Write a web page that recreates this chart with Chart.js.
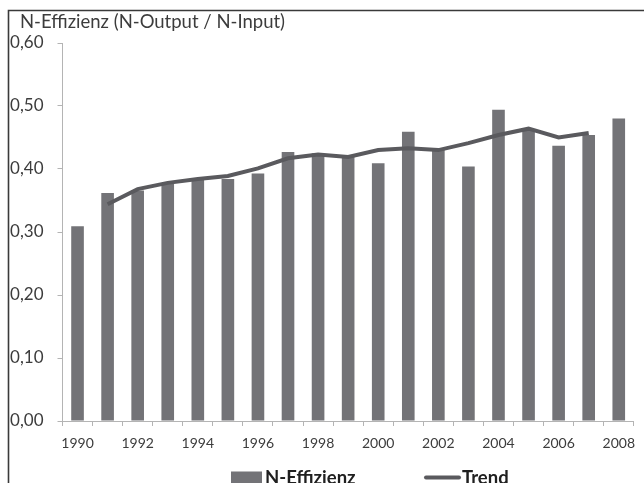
<!DOCTYPE html>
<html>
<head>
<meta charset="utf-8">
<script src="https://cdn.jsdelivr.net/npm/chart.js@4/dist/chart.umd.min.js"></script>
<style>
  html, body { margin: 0; padding: 0; background: #ffffff; }
  #wrap { width: 644px; height: 483px; position: relative; }
</style>
</head>
<body>
<div id="wrap"><canvas id="c" width="644" height="483"></canvas></div>
<script>
const chartTitle = 'N-Effizienz (N-Output / N-Input)';
const years = ['1990','1991','1992','1993','1994','1995','1996','1997','1998','1999',
               '2000','2001','2002','2003','2004','2005','2006','2007','2008'];
const efficiency = [0.309, 0.362, 0.366, 0.376, 0.383, 0.384, 0.393, 0.427, 0.425, 0.419,
                    0.409, 0.459, 0.430, 0.404, 0.494, 0.463, 0.437, 0.454, 0.480];
const trend = [null, 0.344, 0.368, 0.378, 0.384, 0.389, 0.401, 0.417, 0.423, 0.419,
               0.430, 0.433, 0.430, 0.441, 0.454, 0.464, 0.450, 0.457, null];
const seriesNames = ['N-Effizienz', 'Trend'];
const yTicks = [0, 0.1, 0.2, 0.3, 0.4, 0.5, 0.6];

const BAR_COLOR = '#737377';
const LINE_COLOR = '#5a5a5e';
const AXIS_COLOR = '#b4b4b4';
const TEXT_COLOR = '#3c3c3c';

const decorPlugin = {
  id: 'decor',
  beforeDraw(chart) {
    const ctx = chart.ctx;
    ctx.save();
    ctx.fillStyle = '#ffffff';
    ctx.fillRect(0, 0, chart.width, chart.height);
    ctx.restore();
  },
  afterDraw(chart) {
    const ctx = chart.ctx;
    ctx.save();
    // outer frame (cropped at right/bottom)
    ctx.strokeStyle = '#3a3a3a';
    ctx.lineWidth = 1.6;
    ctx.beginPath();
    ctx.moveTo(8.5, chart.height + 2);
    ctx.lineTo(8.5, 10.5);
    ctx.lineTo(chart.width + 2, 10.5);
    ctx.stroke();
    // title
    ctx.fillStyle = TEXT_COLOR;
    ctx.font = '18.5px Lato';
    ctx.textBaseline = 'alphabetic';
    ctx.textAlign = 'left';
    ctx.fillText(chartTitle, 20, 28);
    // legend
    const barDs = chart.data.datasets.find(d => d.type === 'bar');
    const lineDs = chart.data.datasets.find(d => d.type === 'line');
    ctx.font = 'bold 18.5px Lato';
    ctx.fillStyle = barDs.backgroundColor;
    ctx.fillRect(231, 471.5, 31, 12);
    ctx.fillStyle = '#202020';
    ctx.fillText(barDs.label, 265, 484);
    ctx.strokeStyle = lineDs.borderColor;
    ctx.lineWidth = 4;
    ctx.lineCap = 'round';
    ctx.beginPath();
    ctx.moveTo(426, 477.5);
    ctx.lineTo(459, 477.5);
    ctx.stroke();
    ctx.fillText(lineDs.label, 462, 484);
    ctx.restore();
  }
};

new Chart(document.getElementById('c'), {
  data: {
    labels: years,
    datasets: [
      {
        type: 'line',
        label: seriesNames[1],
        data: trend,
        borderColor: LINE_COLOR,
        backgroundColor: LINE_COLOR,
        borderWidth: 4,
        pointRadius: 0,
        tension: 0,
        spanGaps: false,
        order: 0
      },
      {
        type: 'bar',
        label: seriesNames[0],
        data: efficiency,
        backgroundColor: BAR_COLOR,
        borderWidth: 0,
        categoryPercentage: 1.0,
        barPercentage: 0.42,
        order: 1
      }
    ]
  },
  options: {
    responsive: false,
    animation: false,
    devicePixelRatio: 1,
    layout: { padding: { top: 43, left: 0, right: 0, bottom: 0 } },
    plugins: {
      legend: { display: false },
      title: { display: false },
      tooltip: { enabled: false }
    },
    scales: {
      x: {
        offset: true,
        grid: {
          display: true,
          offset: true,
          drawOnChartArea: false,
          drawTicks: true,
          tickLength: 5,
          color: AXIS_COLOR
        },
        border: { display: true, color: AXIS_COLOR, width: 1 },
        ticks: {
          autoSkip: false,
          maxRotation: 0,
          padding: 9,
          color: TEXT_COLOR,
          font: { family: 'Lato', size: 14 },
          callback: function(value, index) {
            return index % 2 === 0 ? years[index] : '';
          }
        },
        afterFit: function(scale) { scale.height = 62; }
      },
      y: {
        min: 0,
        max: 0.6,
        afterBuildTicks: function(scale) {
          scale.ticks = yTicks.map(v => ({ value: v }));
        },
        grid: {
          display: true,
          drawOnChartArea: false,
          drawTicks: true,
          tickLength: 5,
          color: AXIS_COLOR
        },
        border: { display: true, color: AXIS_COLOR, width: 1 },
        ticks: {
          padding: 14,
          color: TEXT_COLOR,
          font: { family: 'Lato', size: 17 },
          callback: function(value) {
            return value.toFixed(2).replace('.', ',');
          }
        },
        afterFit: function(scale) { scale.width = 62.5; }
      }
    }
  },
  plugins: [decorPlugin]
});
</script>
</body>
</html>
